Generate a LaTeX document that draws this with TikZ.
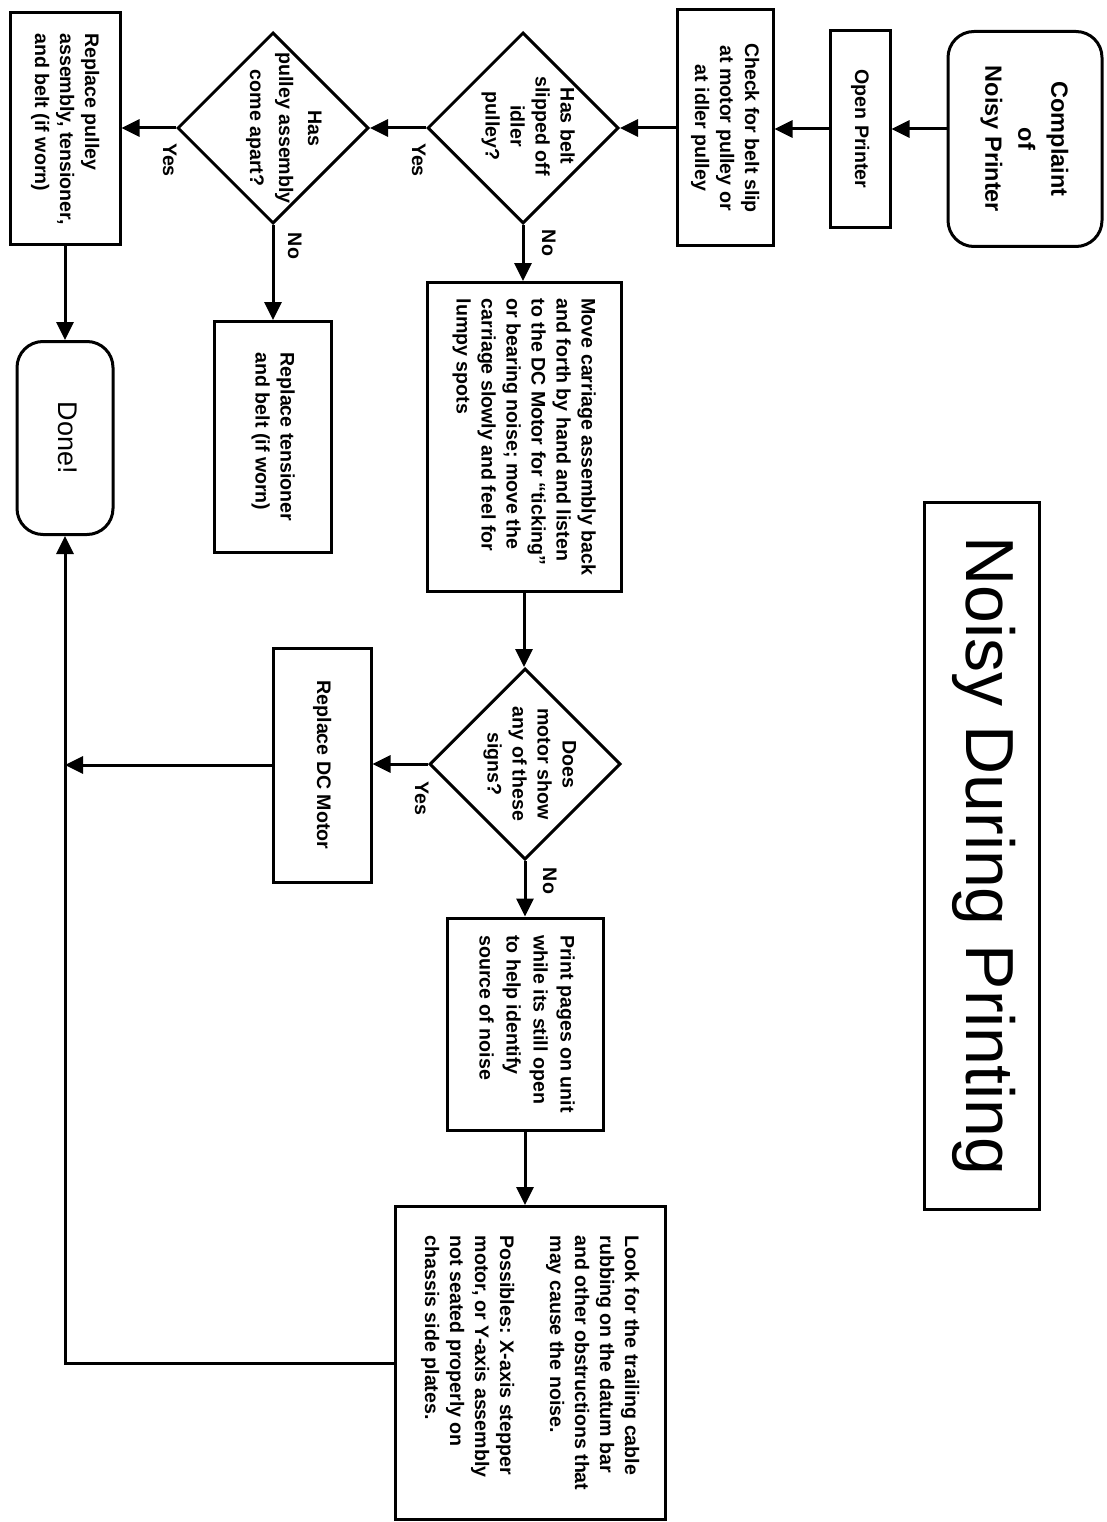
\documentclass[tikz,border=0pt]{standalone}
\usepackage{fontspec}
\setmainfont{Liberation Sans}
\usepackage{graphicx}
\usetikzlibrary{shapes.geometric,arrows.meta}
\tikzstyle{stepbox} = [draw=black,line width=3pt,rectangle,inner sep=0pt,
  font=\fontsize{19.6}{25}\selectfont\bfseries]
\tikzstyle{terminal} = [stepbox,rounded corners=26pt,
  font=\fontsize{23.5}{33}\selectfont\bfseries]
\tikzstyle{decision} = [draw=black,line width=3pt,diamond,inner sep=0pt,
  minimum width=191pt,minimum height=191pt]
\tikzstyle{qtext} = [inner sep=0pt,font=\fontsize{19.6}{25}\selectfont\bfseries]
\tikzstyle{answer} = [inner sep=0pt,font=\fontsize{19.6}{25}\selectfont\bfseries]
\tikzstyle{flow} = [line width=3pt,-{Triangle[length=18pt,width=17pt]}]
\newcommand{\vtext}[2][c]{\rotatebox{-90}{\begin{tabular}{@{}#1@{}}#2\end{tabular}}}

\begin{document}
\begin{tikzpicture}[x=1pt,y=-1pt]
    \useasboundingbox (0,0) rectangle (1107,1522);
    \node [stepbox,minimum width=115pt,minimum height=707pt,
      font=\fontsize{68}{80}\selectfont] (title) at (982,856) {%
      \vtext{Noisy During Printing}};
    \node [terminal,minimum width=154pt,minimum height=215pt] (complaint) at (1025,139) {%
      \vtext{Complaint\\of\\Noisy Printer}};
    \node [stepbox,minimum width=60pt,minimum height=197pt] (open) at (860,129) {%
      \vtext{Open Printer}};
    \node [stepbox,minimum width=96pt,minimum height=236pt] (check) at (725,128) {%
      \vtext{Check for belt slip\\at motor pulley or\\at idler pulley}};
    \node [decision] (slip) at (523,128) {};
    \node [qtext] (slipq) at (528,126) {%
      \vtext{Has belt\\slipped off\\idler\\pulley?}};
    \node [decision] (apart) at (273,128) {};
    \node [qtext] (apartq) at (284,128) {%
      \vtext{Has\\[4pt]pulley assembly\\[4pt]come apart?}};
    \node [stepbox,minimum width=110pt,minimum height=232pt] (pulleyfix) at (65,129) {%
      \vtext[l]{Replace pulley\\assembly, tensioner,\\and belt (if worn)}};
    \node [stepbox,minimum width=194pt,minimum height=309pt] (carriage) at (524,437) {%
      \vtext[l]{Move carriage assembly back\\and forth by hand and listen\\to the DC Motor for ``ticking''\\or bearing noise; move the\\carriage slowly and feel for\\lumpy spots}};
    \node [stepbox,minimum width=117pt,minimum height=231pt] (tensfix) at (273,437) {%
      \vtext[l]{Replace tensioner\\and belt (if worn)}};
    \node [terminal,minimum width=96pt,minimum height=193pt,
      font=\fontsize{27}{33}\selectfont] (done) at (65,438) {%
      \vtext{Done!}};
    \node [decision] (motor) at (525,764) {};
    \node [qtext] (motorq) at (530,764) {%
      \vtext{Does\\motor show\\any of these\\signs?}};
    \node [stepbox,minimum width=98pt,minimum height=234pt] (dcmotor) at (322,765) {%
      \vtext{Replace DC Motor}};
    \node [stepbox,minimum width=156pt,minimum height=212pt] (printpages) at (525,1024) {%
      \vtext[l]{Print pages on unit\\[2pt]while its still open\\[2pt]to help identify\\[2pt]source of noise}};
    \node [stepbox,minimum width=270pt,minimum height=313pt] (cable) at (530,1363) {%
      \vtext[l]{Look for the trailing cable\\rubbing on the datum bar\\and other obstructions that\\may cause the noise.\\[25pt]Possibles: X-axis stepper\\motor, or Y-axis assembly\\not seated properly on\\chassis side plates.}};
    % yes / no
    \node [answer] (yes1) at (417,160) {\vtext{Yes}};
    \node [answer] (no1) at (547,243) {\vtext{No}};
    \node [answer] (yes2) at (168,160) {\vtext{Yes}};
    \node [answer] (no2) at (293,246) {\vtext{No}};
    \node [answer] (yes3) at (420,798) {\vtext{Yes}};
    \node [answer] (no3) at (548,881) {\vtext{No}};
    % flow
    \draw [flow] (open.east -| complaint.west) -- (open.east);
    \draw [flow] (open.west) -- (open.west -| check.east);
    \draw [flow] (slip.east -| check.west) -- (slip.east);
    \draw [flow] (slip.west) -- (apart.east);
    \draw [flow] (apart.west) -- (apart.west -| pulleyfix.east);
    \draw [flow] (slip.south) -- (slip.south |- carriage.north);
    \draw [flow] (apart.south) -- (apart.south |- tensfix.north);
    \draw [flow] (pulleyfix.south) -- (done.north);
    \draw [flow] (carriage.south) -- (carriage.south |- motor.north);
    \draw [flow] (motor.west) -- (motor.west -| dcmotor.east);
    \draw [flow] (dcmotor.west) -- (dcmotor.west -| done.south);
    \draw [flow] (motor.south) -- (motor.south |- printpages.north);
    \draw [flow] (printpages.south) -- (printpages.south |- cable.north);
    \draw [flow] (cable.west) -| (done.south);
  \end{tikzpicture}
\end{document}
